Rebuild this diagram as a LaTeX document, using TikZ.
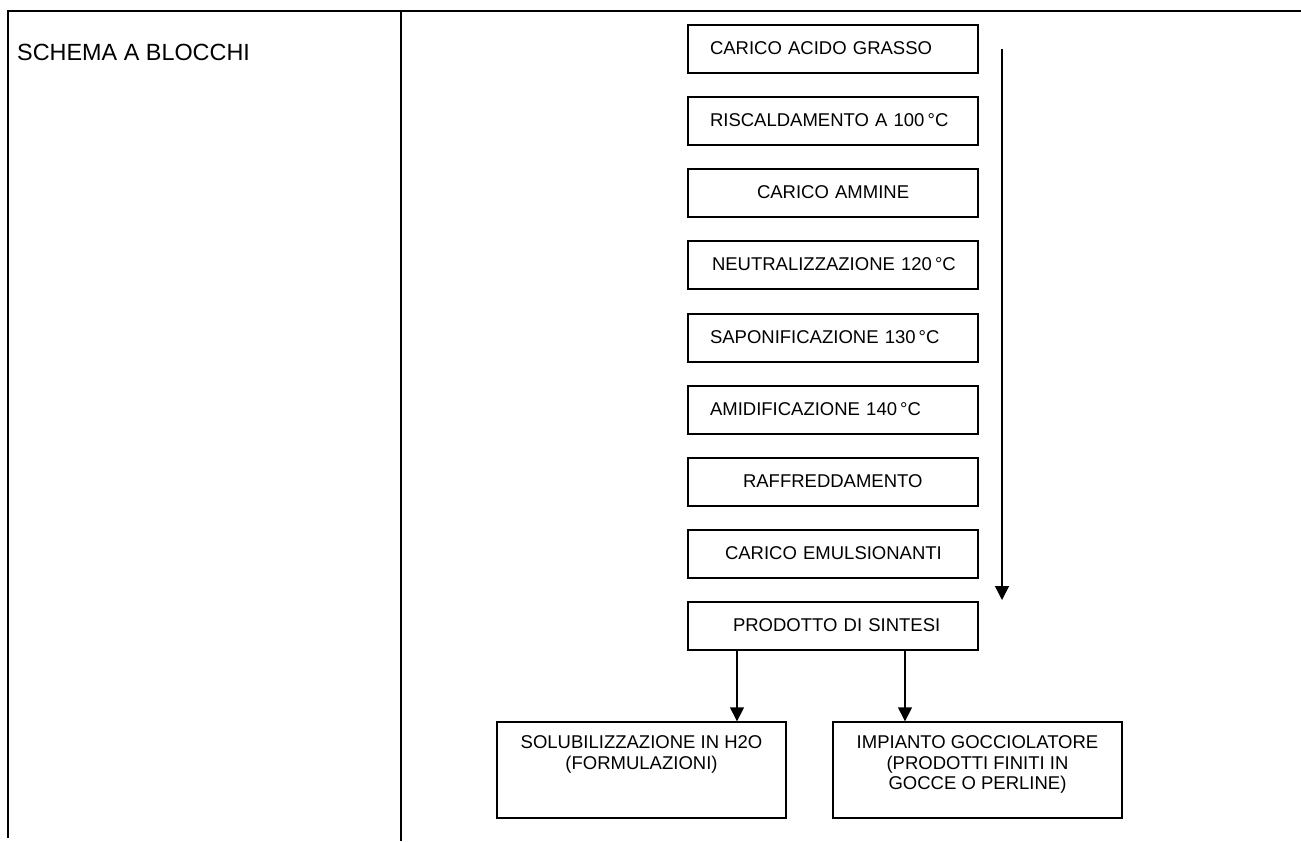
\documentclass[tikz,border=0pt]{standalone}
\usepackage{fontspec}
\setmainfont{Liberation Sans}
\usetikzlibrary{arrows.meta}
\begin{document}
\begin{tikzpicture}[x=1pt,y=-1pt,
  frame/.style={line width=2pt},
  stepbox/.style={draw,line width=1.4pt,minimum width=290pt,minimum height=48pt,
    inner sep=0pt,text width=290pt,align=left,font=\fontsize{18.5}{20.5}\selectfont,
    text height=12pt,text depth=2pt},
  endbox/.style={draw,line width=1.4pt,minimum width=289pt,minimum height=96pt,inner sep=0pt},
  endtext/.style={inner sep=0pt,align=center,font=\fontsize{18.5}{20.5}\selectfont,anchor=north},
  flow/.style={line width=1.4pt,-{Triangle[length=14pt,width=14pt]}}]
\useasboundingbox (0,0) rectangle (1301,841);
% table frame
\coordinate (tl) at (8,11);
\coordinate (tr) at (1301,11);
\coordinate (bl) at (8,838);
\coordinate (mt) at (401,11);
\coordinate (mb) at (401,841);
\draw[frame] (bl) -- (tl) -- (tr);
\draw[frame] (mt) -- (mb);
\node[anchor=base west,inner sep=0pt,font=\fontsize{23.4}{26}\selectfont] (title) at (17,60) {SCHEMA A BLOCCHI};
% process boxes
\node[stepbox] (b1) at (833,49)  {\hspace*{22pt}CARICO ACIDO GRASSO};
\node[stepbox] (b2) at (833,121) {\hspace*{22pt}RISCALDAMENTO A 100\,°C};
\node[stepbox] (b3) at (833,193) {\hspace*{69pt}CARICO AMMINE};
\node[stepbox] (b4) at (833,265) {\hspace*{24pt}NEUTRALIZZAZIONE 120\,°C};
\node[stepbox] (b5) at (833,338) {\hspace*{22pt}SAPONIFICAZIONE 130\,°C};
\node[stepbox] (b6) at (833,410) {\hspace*{22pt}AMIDIFICAZIONE 140\,°C};
\node[stepbox] (b7) at (833,482) {\hspace*{55pt}RAFFREDDAMENTO};
\node[stepbox] (b8) at (833,554) {\hspace*{37pt}CARICO EMULSIONANTI};
\node[stepbox] (b9) at (833,626) {\hspace*{45pt}PRODOTTO DI SINTESI};
% main flow arrow
\coordinate (flowtop) at (1002,49);
\coordinate (flowend) at (1002,600);
\draw[flow] (flowtop) -- (flowend);
% end boxes
\node[endbox] (e1) at (641.5,770) {};
\node[endbox] (e2) at (977.5,770) {};
\node[endtext] (t1) at ([yshift=-14.5pt]e1.north) {SOLUBILIZZAZIONE IN H2O\\(FORMULAZIONI)};
\node[endtext] (t2) at ([yshift=-14.5pt]e2.north) {IMPIANTO GOCCIOLATORE\\(PRODOTTI FINITI IN\\GOCCE O PERLINE)};
\draw[flow] (b9.south -| 737,0) -- (e1.north -| 737,0);
\draw[flow] (b9.south -| 905,0) -- (e2.north -| 905,0);
\end{tikzpicture}
\end{document}
